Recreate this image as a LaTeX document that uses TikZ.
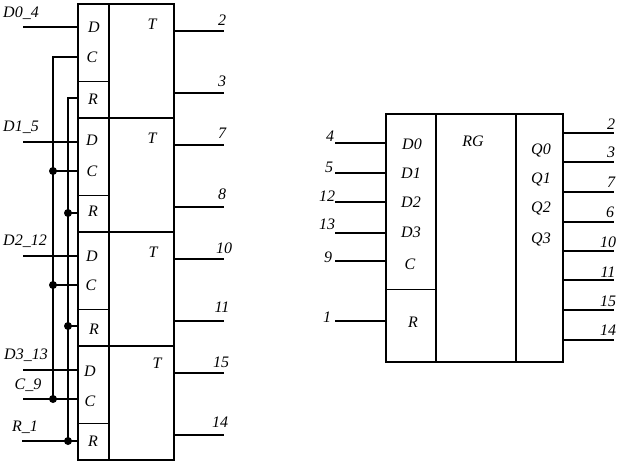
\documentclass[tikz,border=0pt]{standalone}
\usepackage{fontspec}
\setmainfont{Liberation Serif}
\tikzset{
  x=1pt,y=-1pt,
  every node/.style={font=\fontsize{16}{17}\selectfont\itshape,inner sep=0pt,outer sep=0pt},
  cell/.style={draw=black,line width=1.7pt,anchor=north west,rectangle,minimum width=#1},
  cell/.default=31pt,
  thin cell/.style={draw=black,line width=0.8pt,anchor=north west,rectangle,minimum width=31pt},
  wire/.style={draw=black,line width=1.7pt},
  bus/.style={draw=black,line width=1.7pt},
  junction/.style={circle,fill=black,draw=none,minimum size=8pt},
  lbl/.style={anchor=center}
}
\begin{document}
\begin{tikzpicture}
\useasboundingbox (0,0) rectangle (622,466);
\fill[white] (0,0) rectangle (622,466);
% left register: four flip-flops
\foreach \n/\t/\r/\b in {A/4/81/118,B/118/195/232,C/232/309/346,D/346/423/460}{
  \pgfmathsetmacro{\hh}{\b-\t}
  \pgfmathsetmacro{\rh}{\b-\r}
  \node[thin cell,minimum height=\rh pt] (r\n) at (78,\r) {};
  \node[cell,minimum height=\hh pt] (in\n) at (78,\t) {};
  \node[cell=65pt,minimum height=\hh pt] (body\n) at (109,\t) {};
}
% left register texts
\node[lbl] (tDa) at (94,27) {D}; \node[lbl] (tCa) at (92,57) {C}; \node[lbl] (tRa) at (93,99) {R}; \node[lbl] (tTa) at (152,24) {T};
\node[lbl] (tDb) at (92,140) {D}; \node[lbl] (tCb) at (92,171) {C}; \node[lbl] (tRb) at (93,211) {R}; \node[lbl] (tTb) at (152,138) {T};
\node[lbl] (tDc) at (92,256) {D}; \node[lbl] (tCc) at (91,285) {C}; \node[lbl] (tRc) at (94,329) {R}; \node[lbl] (tTc) at (153,252) {T};
\node[lbl] (tDd) at (90,371) {D}; \node[lbl] (tCd) at (90,401) {C}; \node[lbl] (tRd) at (93,441) {R}; \node[lbl] (tTd) at (157,363) {T};
\node[lbl] (l1) at (21,13) {D0\_4};
\node[lbl] (l2) at (21,127) {D1\_5};
\node[lbl] (l3) at (25,241) {D2\_12};
\node[lbl] (l4) at (26,355) {D3\_13};
\node[lbl] (l5) at (28,385) {C\_9};
\node[lbl] (l6) at (25,427) {R\_1};
% left register: data inputs
\foreach \n/\y in {a/27,b/142,c/256,d/370}{
  \coordinate (fd\n) at (23,\y);
  \coordinate (pd\n) at (78,\y);
  \draw[wire] (fd\n) -- (pd\n);
}
% clock and reset buses
\coordinate (ctop) at (53,57);  \coordinate (cpa) at (78,57);
\coordinate (rtop) at (68,98); \coordinate (rpa) at (78,98);
\coordinate (cfree) at (23,399); \coordinate (cpd) at (78,399);
\coordinate (rfree) at (22,441); \coordinate (rpd) at (78,441);
\coordinate (cbot) at (53,399); \coordinate (rbot) at (68,441);
\draw[bus] (cpa) -- (ctop) -- (cbot);
\draw[bus] (rpa) -- (rtop) -- (rbot);
\draw[wire] (cfree) -- (cpd);
\draw[wire] (rfree) -- (rpd);
\foreach \n/\y in {b/171,c/285}{
  \coordinate (cj\n) at (53,\y); \coordinate (cp\n) at (78,\y);
  \draw[wire] (cj\n) -- (cp\n);
  \node[junction] (jc\n) at (cj\n) {};
}
\node[junction] (jcd) at (cbot) {};
\foreach \n/\y in {b/213,c/326}{
  \coordinate (rj\n) at (68,\y); \coordinate (rp\n) at (78,\y);
  \draw[wire] (rj\n) -- (rp\n);
  \node[junction] (jr\n) at (rj\n) {};
}
\node[junction] (jrd) at (rbot) {};
% left register: outputs
\foreach \i/\y/\tx/\lx/\ly in {1/31/2/222/20,2/93/3/222/81,3/145/7/222/133,4/207/8/222/194,5/259/10/224/248,6/321/11/222/307,7/373/15/221/362,8/435/14/220/422}{
  \coordinate (oa\i) at (174,\y);
  \coordinate (ob\i) at (224,\y);
  \draw[wire] (oa\i) -- (ob\i);
  \node[lbl] (ol\i) at (\lx,\ly) {\tx};
}
% right register
\node[draw=black,line width=0.8pt,anchor=north west,minimum width=50pt,minimum height=73pt] (rgr) at (386,289) {};
\node[cell=50pt,minimum height=248pt] (rgin) at (386,114) {};
\node[cell=80pt,minimum height=248pt] (rgmid) at (436,114) {};
\node[cell=47pt,minimum height=248pt] (rgout) at (516,114) {};
\foreach \n/\t/\x/\y in {d0/D0/412/144,d1/D1/411/173,d2/D2/411/202,d3/D3/411/232,c/C/410/264,r/R/413/322,rg/RG/473/141,q0/Q0/541/150,q1/Q1/541/179,q2/Q2/541/208,q3/Q3/541/239}{
  \node[lbl] (t\n) at (\x,\y) {\t};
}
\foreach \i/\y/\tx/\lx/\ly in {1/143/4/330/136,2/173/5/329/167,3/202/12/327/196,4/233/13/327/224,5/261/9/328/257,6/321/1/327/317}{
  \coordinate (ri\i) at (335,\y);
  \coordinate (rk\i) at (386,\y);
  \draw[wire] (ri\i) -- (rk\i);
  \node[lbl] (il\i) at (\lx,\ly) {\tx};
}
\foreach \i/\y/\tx/\lx/\ly in {1/133/2/611/124,2/162/3/611/152,3/192/7/611/182,4/222/6/610/212,5/251/10/608/242,6/280/11/608/272,7/310/15/608/301,8/340/14/608/330}{
  \coordinate (rp\i) at (563,\y);
  \coordinate (rq\i) at (614,\y);
  \draw[wire] (rp\i) -- (rq\i);
  \node[lbl] (pl\i) at (\lx,\ly) {\tx};
}
\end{tikzpicture}
\end{document}
